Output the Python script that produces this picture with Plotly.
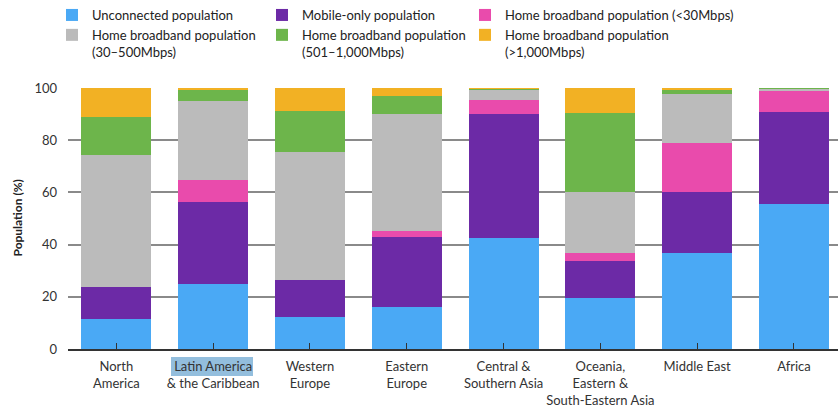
import plotly.graph_objects as go

regions = ["North<br>America", "Latin America<br>& the Caribbean", "Western<br>Europe",
           "Eastern<br>Europe", "Central &<br>Southern Asia",
           "Oceania,<br>Eastern &<br>South-Eastern Asia", "Middle East", "Africa"]

unconnected = [11.6, 24.9, 12.1, 16.1, 42.5, 19.6, 36.6, 55.5]
mobile_only = [12.0, 31.5, 14.2, 27.0, 47.6, 14.3, 23.7, 35.2]
bb_lt30 = [0.0, 8.4, 0.0, 2.3, 5.3, 3.0, 18.8, 8.3]
bb_30_500 = [50.8, 30.2, 49.0, 44.7, 4.2, 23.2, 18.5, 0.8]
bb_501_1000 = [14.6, 4.2, 15.8, 6.8, 0.1, 30.2, 1.6, 0.2]
bb_gt1000 = [11.0, 0.8, 8.9, 3.1, 0.3, 9.7, 0.8, 0.0]

series_names = ["Unconnected population", "Mobile-only population",
                "Home broadband population (<30Mbps)",
                "Home broadband population<br>(30–500Mbps)",
                "Home broadband population<br>(501–1,000Mbps)",
                "Home broadband population<br>(>1,000Mbps)"]
series_values = [unconnected, mobile_only, bb_lt30, bb_30_500, bb_501_1000, bb_gt1000]
colors = ["#4AA9F5", "#6C2AA6", "#E94BAC", "#BBBBBB", "#6DB54B", "#F2B124"]
legend_ids = ["legend", "legend2", "legend3", "legend", "legend2", "legend3"]
y_title = "Population (%)"

x = list(range(len(regions)))
fig = go.Figure()
for name, vals, col, lg in zip(series_names, series_values, colors, legend_ids):
    fig.add_trace(go.Bar(x=x, y=vals, name=name, legend=lg,
                         marker=dict(color=col, line=dict(width=0))))

W, H = 838, 411
L, R, T, B = 68, 0, 88, 62
plot_w = W - L - R
plot_h = H - T - B


def legend_at(px):
    return dict(orientation="v", x=px / W, y=1.0, xanchor="left", yanchor="top",
                xref="container", yref="container", traceorder="normal",
                valign="top", itemwidth=30, tracegroupgap=0,
                font=dict(size=13, color="#222"), bgcolor="rgba(0,0,0,0)")


fig.update_layout(
    width=W, height=H,
    barmode="stack", bargap=0.277,
    plot_bgcolor="white", paper_bgcolor="white",
    margin=dict(l=L, r=R, t=T, b=B, autoexpand=False),
    font=dict(family="Lato, Liberation Sans, sans-serif", size=13, color="#222"),
    legend=legend_at(52), legend2=legend_at(262), legend3=legend_at(465),
    xaxis=dict(tickmode="array", tickvals=x, ticktext=regions, range=[-0.5, 7.455],
               tickangle=0,
               showline=True, linecolor="#333", linewidth=1.5,
               ticks="inside", tickson="boundaries", ticklen=6, tickcolor="#333",
               tickwidth=1.2, showgrid=False, fixedrange=True,
               ticklabelstandoff=5,
               tickfont=dict(size=13, color="#333")),
    yaxis=dict(range=[0, 100], tickvals=[0, 20, 40, 60, 80, 100], showgrid=True,
               gridcolor="#8a8a8a", gridwidth=1.5, zeroline=False, showline=False,
               ticks="", ticklabelstandoff=10,
               tickfont=dict(size=13, color="#333")),
)

fig.add_annotation(text="<b>" + y_title + "</b>", xref="paper", yref="paper",
                   x=(17 - L) / plot_w, y=0.5, xanchor="center", yanchor="middle",
                   textangle=-90, showarrow=False, font=dict(size=12, color="#222"))

# selection highlight behind "Latin America" label
fig.add_shape(type="rect", xref="paper", yref="paper", layer="below",
              x0=(171 - L) / plot_w, x1=(253 - L) / plot_w,
              y0=(H - B - 376) / plot_h, y1=(H - B - 357) / plot_h,
              fillcolor="#93BEDD", line=dict(width=0))

fig.write_html("out.html", config={"displayModeBar": False},
               post_script="document.body.style.margin='0';document.body.style.overflow='hidden';")
